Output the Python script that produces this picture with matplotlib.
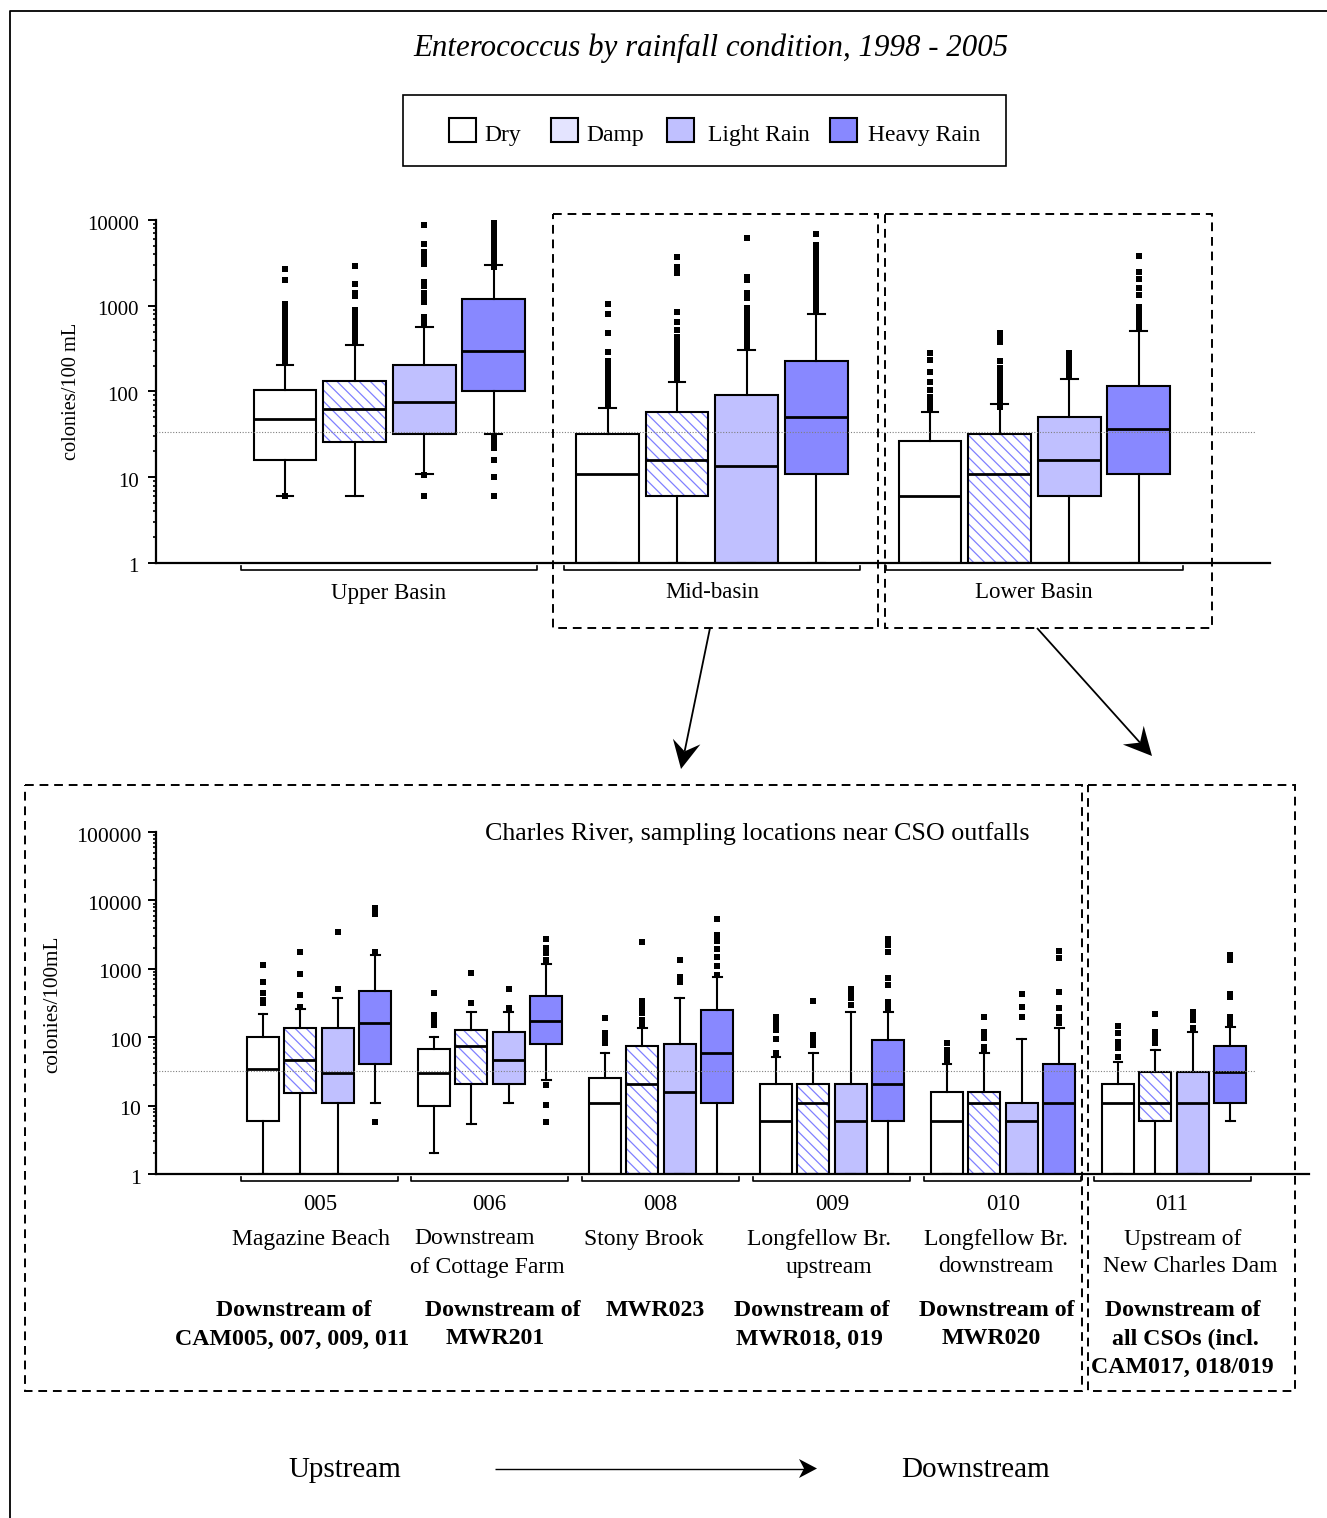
import numpy as np
import matplotlib
matplotlib.use("Agg")
import matplotlib.pyplot as plt
from matplotlib.patches import PathPatch, Polygon, Rectangle
from matplotlib.ticker import LogLocator, NullFormatter
from matplotlib.transforms import ScaledTranslation

plt.rcParams['font.family'] = ['Liberation Serif', 'DejaVu Serif']
plt.rcParams['hatch.linewidth'] = 0.9

W, H = 1327, 1518

conditions = ["Dry", "Damp", "Light Rain", "Heavy Rain"]
cond_colors = ["white", "white", "#c0c0ff", "#8888ff"]
hatch_color = "#8080ff"

# ---- top chart, one list per box stat, order is dry/damp/light/heavy
upper_lo = [6, 6, 11, 32]
upper_q1 = [16, 26, 32, 100]
upper_med = [48, 62, 75, 300]
upper_q3 = [105, 132, 205, 1200]
upper_hi = [205, 350, 570, 3000]
upper_fliers = [
    [6, 220, 240, 260, 280, 300, 330, 360, 400, 430, 470, 520, 600, 680, 780, 860, 960, 1060, 2000, 2700],
    [380, 420, 460, 520, 560, 600, 650, 700, 780, 850, 900, 1300, 1400, 1800, 2900],
    [6, 10.5, 620, 680, 740, 1100, 1250, 1400, 1700, 1900, 3100, 3600, 4200, 5200, 8700],
    [6, 10, 16, 22, 26, 30, 2800, 3300, 3600, 3900, 4200, 4500, 5000, 5400, 5800, 6200, 6600, 7000, 7500, 8000, 8500, 9000, 9500],
]

mid_lo = [1, 1, 1, 1]
mid_q1 = [1, 6, 1, 11]
mid_med = [11, 16, 13.5, 51]
mid_q3 = [32, 57, 92, 227]
mid_hi = [65, 128, 303, 795]
mid_fliers = [
    [70, 75, 82, 90, 98, 106, 115, 125, 135, 148, 160, 175, 190, 205, 225, 291, 485, 795, 1040],
    [135, 148, 160, 175, 190, 205, 225, 245, 270, 295, 325, 360, 400, 436, 520, 650, 850, 2400, 2850, 3670],
    [330, 370, 410, 480, 540, 600, 680, 746, 850, 940, 1240, 1400, 2000, 2180, 6220],
    [850, 950, 1050, 1180, 1300, 1450, 1600, 1780, 1950, 2150, 2350, 2600, 2850, 3100, 3400, 3700, 4000, 4400, 4800, 5100, 6780],
]

lower_lo = [1, 1, 1, 1]
lower_q1 = [1, 1, 6, 11]
lower_med = [6, 11, 16, 36.5]
lower_q3 = [26.5, 32, 51, 116]
lower_hi = [57, 72, 140, 508]
lower_fliers = [
    [61, 66, 73, 80, 87, 104, 130, 170, 233, 279],
    [66, 75, 85, 95, 105, 118, 130, 145, 165, 186, 227, 380, 430, 480],
    [150, 160, 180, 200, 225, 255, 279],
    [546, 600, 660, 720, 800, 880, 980, 1330, 1590, 2040, 2490, 3800],
]

# ---- bottom chart
s005_lo = [1, 1, 1, 11]
s005_q1 = [6, 15.5, 11, 41]
s005_med = [34, 46, 30, 163]
s005_q3 = [100, 136, 136, 478]
s005_hi = [220, 261, 378, 1590]
s005_fliers = [
    [312, 350, 447, 650, 1130],
    [280, 414, 830, 1790],
    [507, 3450],
    [5.7, 1790, 6400, 7650],
]

s006_lo = [2, 5.4, 11, 24]
s006_q1 = [10, 21, 21, 79]
s006_med = [30, 74, 46, 174]
s006_q3 = [66.5, 127, 119, 400]
s006_hi = [100, 236, 236, 1190]
s006_fliers = [
    [150, 178, 211, 447],
    [316, 870],
    [264, 507],
    [5.7, 10.2, 20, 1340, 1680, 1990, 2730],
]

s008_lo = [1, 1, 1, 1]
s008_q1 = [1, 1, 1, 11]
s008_med = [11, 21, 16, 59]
s008_q3 = [25.6, 75, 79, 250]
s008_hi = [59, 136, 374, 767]
s008_fliers = [
    [81, 96, 116, 190],
    [151, 178, 224, 280, 342, 2440],
    [650, 767, 1330],
    [810, 1110, 1470, 1930, 2580, 3120, 5340],
]

s009_lo = [1, 1, 1, 1]
s009_q1 = [1, 1, 1, 6]
s009_med = [6, 11, 6, 21]
s009_q3 = [21, 21, 21, 90]
s009_hi = [52, 59, 233, 233]
s009_fliers = [
    [58, 94, 127, 151, 178, 199],
    [77, 91, 108, 342],
    [295, 370, 437, 500],
    [264, 330, 580, 733, 1780, 2230, 2730],
]

s010_lo = [1, 1, 1, 1]
s010_q1 = [1, 1, 1, 1]
s010_med = [6, 11, 6, 11]
s010_q3 = [16, 16, 11, 41]
s010_hi = [40.5, 59, 95, 136]
s010_fliers = [
    [46, 55, 65, 81],
    [65, 73, 96, 120, 195],
    [195, 280, 427],
    [160, 198, 264, 453, 1420, 1820],
]

s011_lo = [1, 1, 1, 6]
s011_q1 = [1, 6, 1, 11]
s011_med = [11, 11, 11, 30.6]
s011_q3 = [21, 30.6, 30.6, 74]
s011_hi = [43, 66, 120, 143]
s011_fliers = [
    [52, 69, 86, 114, 146],
    [81, 96, 120, 219],
    [135, 178, 211, 236],
    [160, 198, 383, 427, 1350, 1590],
]

top_guideline = 34
bottom_guideline = 32


def px_axes(fig, left, right, top, bottom):
    return fig.add_axes([left / W, 1 - bottom / H, (right - left) / W, (bottom - top) / H])


def draw_group(ax, x0, lo, q1, med, q3, hi, fliers, width):
    stats = []
    for i in range(4):
        stats.append(dict(whislo=lo[i], q1=q1[i], med=med[i], q3=q3[i], whishi=hi[i], fliers=fliers[i]))
    res = ax.bxp(stats, positions=[x0 + i for i in range(4)], widths=width, capwidths=0.24,
                 patch_artist=True, manage_ticks=False,
                 boxprops=dict(linewidth=1.5, edgecolor="black"),
                 medianprops=dict(color="black", linewidth=2),
                 whiskerprops=dict(color="black", linewidth=1.5),
                 capprops=dict(color="black", linewidth=1.5),
                 flierprops=dict(marker="s", markersize=3.8, markerfacecolor="black", markeredgewidth=0))
    for box, col in zip(res["boxes"], cond_colors):
        box.set_facecolor(col)
    # hatch colour has to differ from the outline so damp gets its own patch underneath
    damp = res["boxes"][1]
    damp.set_facecolor("none")
    ax.add_patch(PathPatch(damp.get_path(), facecolor="white", edgecolor=hatch_color,
                           hatch="\\\\\\", linewidth=0, zorder=1.5))


def style_axis(ax, ticks, labels, x_left, x_right, slot, first_x, tick_size, tick_pad):
    ax.set_yscale("log")
    ax.set_ylim(ticks[0], ticks[-1])
    xmin = (x_left - first_x) / slot
    ax.set_xlim(xmin, xmin + (x_right - x_left) / slot)
    ax.patch.set_alpha(0)
    ax.spines["top"].set_visible(False)
    ax.spines["right"].set_visible(False)
    ax.spines["left"].set_linewidth(1.6)
    ax.spines["bottom"].set_linewidth(1.6)
    ax.set_xticks([])
    ax.set_yticks(ticks)
    ax.set_yticklabels(labels, fontsize=tick_size)
    ax.yaxis.set_minor_locator(LogLocator(base=10, subs=range(2, 10), numticks=12))
    ax.yaxis.set_minor_formatter(NullFormatter())
    ax.tick_params(axis="y", which="major", length=5.5, width=1.4, pad=tick_pad)
    ax.tick_params(axis="y", which="minor", length=2.5, width=1.2)
    # tick numbers sit a little below their tick in the original
    shift = ScaledTranslation(0, -2.5 / 100, ax.figure.dpi_scale_trans)
    for lbl in ax.get_yticklabels():
        lbl.set_transform(lbl.get_transform() + shift)


def arrow(ax, start, tip, head_len, head_half, notch, lw):
    start = np.array(start, dtype=float)
    tip = np.array(tip, dtype=float)
    d = (tip - start) / np.hypot(*(tip - start))
    n = np.array([-d[1], d[0]])
    back = tip - d * notch
    ax.plot([start[0], back[0]], [start[1], back[1]], color="black", lw=lw, solid_capstyle="butt")
    ax.add_patch(Polygon([tip, tip - d * head_len + n * head_half, back, tip - d * head_len - n * head_half],
                         closed=True, facecolor="black", edgecolor="none"))


fig = plt.figure(figsize=(W / 100, H / 100), dpi=100)

# page layer in pixel coordinates for frame, legend, brackets, dashed boxes
page = fig.add_axes([0, 0, 1, 1])
page.set_xlim(0, W)
page.set_ylim(H, 0)
page.axis("off")

page.plot([10, 10, W], [H, 11, 11], color="black", lw=1.3)

page.text(711, 48.5, "Enterococcus by rainfall condition, 1998 - 2005", style="italic", fontsize=22.25,
          ha="center", va="center")

page.add_patch(Rectangle((403, 95), 603, 71, facecolor="white", edgecolor="black", lw=1.2))
swatch_x = [449, 551, 667, 830]
label_x = [484.5, 586.5, 707.5, 867.5]
for i, name in enumerate(conditions):
    fc = "#e4e4ff" if name == "Damp" else cond_colors[i]
    page.add_patch(Rectangle((swatch_x[i], 118), 27, 24, facecolor=fc, edgecolor="black", lw=1.5))
    page.text(label_x[i], 135, name, fontsize=17, ha="left", va="center")

# top chart
top_slot = 69.6
top_step = 322.5 / top_slot
ax1 = px_axes(fig, 156, 1270, 220, 563)
style_axis(ax1, [1, 10, 100, 1000, 10000], ["1", "10", "100", "1000", "10000"], 156, 1270, top_slot, 285, 15, 7)
draw_group(ax1, 0, upper_lo, upper_q1, upper_med, upper_q3, upper_hi, upper_fliers, 0.9)
draw_group(ax1, top_step, mid_lo, mid_q1, mid_med, mid_q3, mid_hi, mid_fliers, 0.9)
draw_group(ax1, 2 * top_step, lower_lo, lower_q1, lower_med, lower_q3, lower_hi, lower_fliers, 0.9)
ax1.plot([ax1.get_xlim()[0], (1255 - 285) / top_slot], [top_guideline, top_guideline],
         color="#808080", lw=0.8, ls=(0, (1, 1.5)), zorder=5)
page.text(71, 391.5, "colonies/100 mL", rotation=90, fontsize=14.7, ha="center", va="center")

# bottom chart
bot_slot = 37.4
bot_step = 171 / bot_slot
ax2 = px_axes(fig, 156, 1309, 832, 1174)
style_axis(ax2, [1, 10, 100, 1000, 10000, 100000], ["1", "10", "100", "1000", "10000", "100000"],
           156, 1309, bot_slot, 263, 15.7, 5)
groups = [
    (s005_lo, s005_q1, s005_med, s005_q3, s005_hi, s005_fliers),
    (s006_lo, s006_q1, s006_med, s006_q3, s006_hi, s006_fliers),
    (s008_lo, s008_q1, s008_med, s008_q3, s008_hi, s008_fliers),
    (s009_lo, s009_q1, s009_med, s009_q3, s009_hi, s009_fliers),
    (s010_lo, s010_q1, s010_med, s010_q3, s010_hi, s010_fliers),
    (s011_lo, s011_q1, s011_med, s011_q3, s011_hi, s011_fliers),
]
for g, stats in enumerate(groups):
    draw_group(ax2, g * bot_step, *stats, 0.86)
ax2.plot([ax2.get_xlim()[0], (1255 - 263) / bot_slot], [bottom_guideline, bottom_guideline],
         color="#808080", lw=0.8, ls=(0, (1, 1.5)), zorder=5)
page.text(53, 1004.5, "colonies/100mL", rotation=90, fontsize=15.2, ha="center", va="center")

# brackets under the groups
for x0, x1, yb in [(241, 537, 566), (564, 860, 566), (886, 1183, 566),
                   (241, 398, 1177), (411, 568, 1177), (582, 739, 1177),
                   (753, 910, 1177), (924, 1081, 1177), (1094, 1251, 1177)]:
    page.plot([x0, x0, x1, x1], [yb, yb + 4, yb + 4, yb], color="black", lw=1.2)

for x, txt in [(389, "Upper Basin"), (712, "Mid-basin"), (1034, "Lower Basin")]:
    page.text(x, 593, txt, fontsize=16.5, ha="center", va="center")

page.text(757, 834, "Charles River, sampling locations near CSO outfalls", fontsize=18.7, ha="center", va="center")

for x, txt in zip([320, 489, 660, 832, 1003, 1172], ["005", "006", "008", "009", "010", "011"]):
    page.text(x, 1204, txt, fontsize=16.5, ha="center", va="center")

site_lines = [
    (311, 1239, "Magazine Beach"), (475, 1239, "Downstream"), (487, 1267, "of Cottage Farm"),
    (644, 1239, "Stony Brook"), (819, 1239, "Longfellow Br."), (829, 1267, "upstream"),
    (996, 1239, "Longfellow Br."), (996, 1267, "downstream"),
    (1183, 1239, "Upstream of"), (1190, 1267, "New Charles Dam"),
]
for x, y, txt in site_lines:
    page.text(x, y, txt, fontsize=17, ha="center", va="center")

cso_lines = [
    (294, 1310, "Downstream of"), (292, 1339, "CAM005, 007, 009, 011"),
    (503, 1310, "Downstream of"), (495, 1339, "MWR201"),
    (655, 1310, "MWR023"),
    (812, 1310, "Downstream of"), (809, 1339, "MWR018, 019"),
    (997, 1310, "Downstream of"), (991, 1339, "MWR020"),
    (1183, 1310, "Downstream of"), (1185, 1339, "all CSOs (incl."), (1182, 1367, "CAM017, 018/019"),
]
for x, y, txt in cso_lines:
    page.text(x, y, txt, fontsize=17.2, fontweight="bold", ha="center", va="center")

page.text(345, 1470, "Upstream", fontsize=21, ha="center", va="center")
page.text(976, 1470, "Downstream", fontsize=21, ha="center", va="center")

# dashed boxes go on top of the charts
overlay = fig.add_axes([0, 0, 1, 1])
overlay.set_xlim(0, W)
overlay.set_ylim(H, 0)
overlay.axis("off")
for x0, y0, x1, y1 in [(553, 214, 878, 628), (885, 214, 1212, 628), (25, 785, 1082, 1391), (1088, 785, 1295, 1391)]:
    overlay.add_patch(Rectangle((x0, y0), x1 - x0, y1 - y0, fill=False, edgecolor="black", lw=1.4,
                                ls=(0, (4.5, 3))))

arrow(overlay, (710, 628), (681, 769), 28, 14, 18, 1.3)
arrow(overlay, (1037, 628), (1152, 756), 28, 14, 18, 1.3)
arrow(overlay, (495, 1468.5), (817, 1468.5), 18, 9.5, 13, 1.0)

fig.savefig("out.png", dpi=100)
